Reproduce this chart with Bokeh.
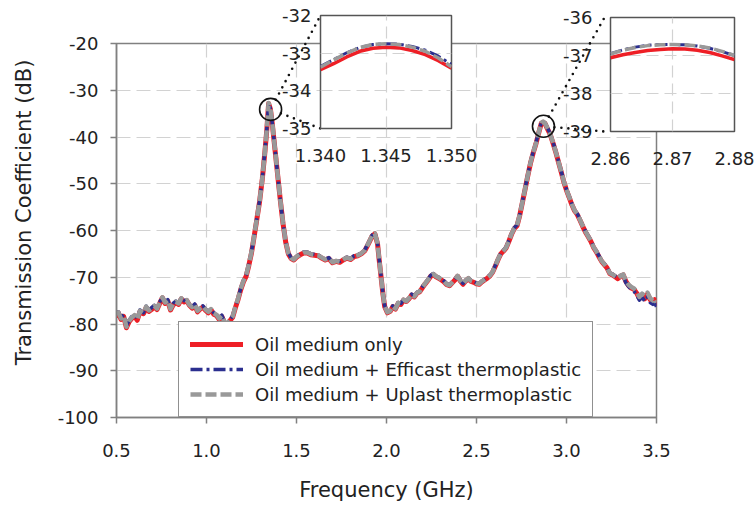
import math
from bokeh.plotting import figure
from bokeh.models import Range1d, FixedTicker, NumeralTickFormatter, Legend, LegendItem
from bokeh.core.properties import value
from bokeh.embed import file_html
from bokeh.resources import INLINE

# ---------------- data ----------------
freq = [0.50,0.51,0.525,0.54,0.555,0.57,0.585,0.60,0.615,0.63,
        0.65,0.665,0.68,0.695,0.71,0.725,0.74,0.755,0.77,0.785,
        0.80,0.815,0.83,0.845,0.86,0.875,0.89,0.905,0.92,0.935,
        0.95,0.965,0.98,0.995,1.01,1.025,1.04,1.055,1.07,1.085,
        1.10,1.115,1.13,1.145,1.16,1.175,1.19,1.205,1.22,1.235,
        1.25,1.265,1.28,1.295,1.31,1.325,1.335,1.345,1.355,1.365,
        1.38,1.395,1.41,1.425,1.44,1.455,1.47,1.485,1.50,1.52,
        1.54,1.56,1.58,1.60,1.62,1.64,1.66,1.68,1.70,1.72,
        1.74,1.76,1.78,1.80,1.82,1.84,1.86,1.88,1.90,1.92,
        1.935,1.95,1.96,1.97,1.98,1.99,2.005,2.02,2.035,2.05,
        2.065,2.08,2.095,2.11,2.125,2.14,2.155,2.17,2.185,2.20,
        2.215,2.23,2.245,2.26,2.275,2.29,2.305,2.32,2.335,2.35,
        2.365,2.38,2.395,2.41,2.425,2.44,2.455,2.47,2.485,2.50,
        2.515,2.53,2.545,2.56,2.575,2.59,2.605,2.62,2.635,2.65,
        2.665,2.68,2.695,2.71,2.725,2.74,2.755,2.77,2.785,2.80,
        2.815,2.83,2.845,2.86,2.87,2.88,2.895,2.91,2.925,2.94,
        2.955,2.97,2.985,3.00,3.015,3.03,3.045,3.06,3.075,3.09,
        3.105,3.12,3.135,3.15,3.165,3.18,3.195,3.21,3.225,3.24,
        3.255,3.27,3.285,3.30,3.315,3.33,3.345,3.36,3.375,3.39,
        3.405,3.42,3.435,3.45,3.465,3.48,3.49,3.50]

oil_only = [-78.2,-77.6,-79.0,-78.4,-80.8,-79.5,-78.8,-78.3,-79.2,-77.4,
            -77.8,-76.5,-77.3,-76.9,-76.3,-76.9,-75.6,-74.4,-75.6,-75.1,
            -77.0,-75.9,-75.4,-75.8,-74.6,-75.3,-75.0,-76.0,-76.6,-76.0,
            -77.4,-76.8,-76.4,-77.1,-77.6,-77.0,-77.9,-78.2,-79.0,-78.4,
            -79.8,-80.2,-79.3,-78.6,-76.6,-74.8,-72.7,-71.0,-69.8,-67.5,
            -64.8,-61.2,-57.5,-53.8,-49.0,-43.0,-38.5,-32.85,-34.0,-37.0,
            -42.5,-48.0,-53.5,-58.5,-62.5,-65.0,-66.0,-66.3,-65.7,-65.2,
            -64.8,-64.8,-65.2,-65.3,-65.4,-65.9,-66.3,-66.0,-66.9,-66.6,
            -66.8,-66.3,-65.9,-66.2,-65.6,-65.4,-65.0,-64.3,-62.8,-61.2,
            -60.7,-62.8,-66.5,-70.0,-73.5,-76.3,-77.6,-77.3,-76.3,-76.8,
            -75.6,-75.8,-74.9,-75.2,-74.6,-73.8,-74.2,-73.4,-73.1,-72.2,
            -71.4,-70.7,-69.8,-69.4,-69.9,-70.2,-70.6,-71.0,-71.6,-71.8,
            -71.2,-70.6,-69.8,-70.8,-71.5,-70.8,-70.3,-70.9,-71.1,-71.4,
            -71.5,-71.0,-70.6,-70.2,-69.7,-68.9,-67.6,-66.2,-65.0,-64.4,
            -63.7,-62.3,-60.8,-59.6,-59.0,-56.8,-54.0,-51.2,-48.3,-45.6,
            -43.4,-41.5,-39.2,-37.1,-36.85,-37.1,-38.3,-39.5,-41.3,-43.2,
            -45.3,-47.4,-49.6,-51.4,-52.9,-54.5,-55.8,-56.6,-57.8,-59.1,
            -60.3,-61.3,-62.3,-63.6,-64.5,-65.6,-66.6,-67.3,-68.0,-69.2,
            -69.5,-69.9,-70.3,-69.8,-69.5,-70.9,-71.8,-72.3,-72.6,-73.4,
            -74.5,-73.8,-74.6,-73.6,-74.8,-75.2,-74.8,-75.6]

oil_efficast = [-77.6,-77.4,-78.6,-78.0,-80.4,-79.2,-78.4,-78.0,-78.8,-77.0,
                -77.6,-76.2,-77.0,-76.5,-76.0,-76.6,-75.3,-74.2,-75.3,-74.8,
                -76.7,-75.6,-75.1,-75.5,-74.4,-75.0,-74.8,-75.8,-76.3,-75.7,
                -77.1,-76.5,-76.1,-76.8,-77.3,-76.7,-77.6,-77.9,-78.7,-78.1,
                -79.5,-79.9,-79.0,-78.3,-76.3,-74.5,-72.4,-70.7,-69.5,-67.2,
                -64.5,-61.0,-57.3,-53.6,-48.8,-42.8,-38.3,-32.75,-33.9,-36.9,
                -42.4,-47.9,-53.4,-58.4,-62.4,-64.8,-65.8,-66.1,-65.5,-65.0,
                -64.6,-64.6,-65.0,-65.1,-65.2,-65.7,-66.1,-65.8,-66.7,-66.4,
                -66.6,-66.1,-65.7,-66.0,-65.4,-65.2,-64.8,-64.1,-62.6,-61.0,
                -60.5,-62.6,-66.3,-69.8,-73.3,-76.1,-77.4,-77.1,-76.1,-76.6,
                -75.4,-75.6,-74.7,-75.0,-74.4,-73.6,-74.0,-73.2,-72.9,-72.0,
                -71.2,-70.5,-69.6,-69.2,-69.7,-70.0,-70.4,-70.8,-71.4,-71.6,
                -71.0,-70.4,-69.6,-70.6,-71.3,-70.6,-70.1,-70.7,-70.9,-71.2,
                -71.3,-70.8,-70.4,-70.0,-69.5,-68.7,-67.4,-66.0,-64.8,-64.2,
                -63.5,-62.1,-60.6,-59.4,-58.8,-56.6,-53.8,-51.0,-48.1,-45.4,
                -43.2,-41.3,-39.0,-36.96,-36.72,-36.96,-38.1,-39.3,-41.1,-43.0,
                -45.1,-47.2,-49.4,-51.2,-52.7,-54.3,-55.6,-56.4,-57.6,-58.9,
                -60.1,-61.1,-62.1,-63.4,-64.3,-65.4,-66.4,-67.1,-67.8,-69.0,
                -69.3,-69.7,-70.1,-69.6,-69.7,-71.2,-72.0,-72.6,-73.0,-73.8,
                -74.9,-74.3,-75.1,-74.2,-75.4,-75.8,-75.5,-76.3]

oil_uplast = [-77.8,-77.5,-78.8,-78.2,-80.6,-79.3,-78.6,-78.1,-79.0,-77.2,
              -77.7,-76.3,-77.1,-76.7,-76.1,-76.7,-75.4,-74.3,-75.4,-74.9,
              -76.8,-75.7,-75.2,-75.6,-74.5,-75.1,-74.9,-75.9,-76.4,-75.8,
              -77.2,-76.6,-76.2,-76.9,-77.4,-76.8,-77.7,-78.0,-78.8,-78.2,
              -79.6,-80.0,-79.1,-78.4,-76.4,-74.6,-72.5,-70.8,-69.6,-67.3,
              -64.6,-61.1,-57.4,-53.7,-48.9,-42.9,-38.4,-32.75,-33.9,-36.9,
              -42.4,-47.9,-53.4,-58.4,-62.4,-64.9,-65.9,-66.2,-65.6,-65.1,
              -64.7,-64.7,-65.1,-65.2,-65.3,-65.8,-66.2,-65.9,-66.8,-66.5,
              -66.7,-66.2,-65.8,-66.1,-65.5,-65.3,-64.9,-64.2,-62.7,-61.1,
              -60.6,-62.7,-66.4,-69.9,-73.4,-76.2,-77.5,-77.2,-76.2,-76.7,
              -75.5,-75.7,-74.8,-75.1,-74.5,-73.7,-74.1,-73.3,-73.0,-72.1,
              -71.3,-70.6,-69.7,-69.3,-69.8,-70.1,-70.5,-70.9,-71.5,-71.7,
              -71.1,-70.5,-69.7,-70.7,-71.4,-70.7,-70.2,-70.8,-71.0,-71.3,
              -71.4,-70.9,-70.5,-70.1,-69.6,-68.8,-67.5,-66.1,-64.9,-64.3,
              -63.6,-62.2,-60.7,-59.5,-58.9,-56.7,-53.9,-51.1,-48.2,-45.5,
              -43.3,-41.4,-39.1,-36.96,-36.71,-37.0,-38.2,-39.4,-41.2,-43.1,
              -45.2,-47.3,-49.5,-51.3,-52.8,-54.4,-55.7,-56.5,-57.7,-59.0,
              -60.2,-61.2,-62.2,-63.5,-64.4,-65.5,-66.5,-67.2,-67.9,-69.1,
              -69.4,-69.8,-70.2,-69.7,-69.4,-70.8,-71.6,-72.1,-72.4,-73.1,
              -74.2,-73.5,-74.0,-73.3,-74.5,-75.0,-74.6,-75.4]

# zoomed views
zoom1_freq = [1.340,1.341,1.342,1.343,1.344,1.345,1.346,1.347,1.348,1.349,1.350]
zoom1_oil = [-33.44,-33.28,-33.10,-32.95,-32.87,-32.84,-32.86,-32.93,-33.04,-33.20,-33.40]
zoom1_efficast = [-33.35,-33.17,-32.99,-32.85,-32.77,-32.75,-32.76,-32.82,-32.92,-33.08,-33.30]
zoom1_uplast = [-33.37,-33.18,-33.00,-32.85,-32.77,-32.75,-32.77,-32.84,-32.95,-33.13,-33.36]

zoom2_freq = [2.860,2.862,2.864,2.866,2.868,2.870,2.872,2.874,2.876,2.878,2.880]
zoom2_oil = [-37.06,-36.98,-36.92,-36.87,-36.84,-36.82,-36.83,-36.86,-36.92,-37.01,-37.11]
zoom2_efficast = [-36.95,-36.85,-36.78,-36.73,-36.71,-36.71,-36.72,-36.75,-36.81,-36.90,-37.00]
zoom2_uplast = [-36.96,-36.86,-36.79,-36.74,-36.72,-36.71,-36.72,-36.75,-36.80,-36.89,-37.00]

x_ticks = [0.5, 1.0, 1.5, 2.0, 2.5, 3.0, 3.5]
y_ticks = [-100, -90, -80, -70, -60, -50, -40, -30, -20]
zoom1_xticks = [1.340, 1.345, 1.350]
zoom1_yticks = [-35, -34, -33, -32]
zoom2_xticks = [2.86, 2.87, 2.88]
zoom2_yticks = [-39, -38, -37, -36]

# highlighted peaks (centre of the marking circles)
mark_x = [1.356, 2.872]
mark_y = [-34.1, -37.7]

labels = ["Oil medium only",
          "Oil medium + Efficast thermoplastic",
          "Oil medium + Uplast thermoplastic"]
x_title = "Frequency (GHz)"
y_title = "Transmission Coefficient (dB)"

# ---------------- style ----------------
FONT = "DejaVu Sans"
RED = "#ee1f26"
BLUE = "#2b2f8f"
GRAY = "#999999"
AXIS = "#808080"
GRID = "#d2d2d2"
TXT = "#222222"

# main frame layout (pixels)
FL, FT, FW, FH = 116, 43, 540, 374
X0, X1, Y0, Y1 = 0.5, 3.5, -100, -20


def hyphen_labels(ticks, fmt="{:g}"):
    return {t: fmt.format(t) for t in ticks}


def px_to_main(px, py):
    return (X0 + (px - FL) / FW * (X1 - X0), Y1 - (py - FT) / FH * (Y1 - Y0))


def main_to_px(x, y):
    return (FL + (x - X0) / (X1 - X0) * FW, FT + (Y1 - y) / (Y1 - Y0) * FH)


p = figure(frame_width=FW, frame_height=FH,
           min_border_left=FL, min_border_right=755 - FL - FW,
           min_border_top=FT, min_border_bottom=507 - FT - FH,
           x_range=Range1d(X0, X1), y_range=Range1d(Y0, Y1),
           output_backend="svg", toolbar_location=None,
           background_fill_color="white", border_fill_color="white",
           styles={"position": "absolute", "left": "0px", "top": "0px"})
p.outline_line_color = AXIS
p.outline_line_width = 1.5

for ax in (p.xaxis[0], p.yaxis[0]):
    ax.axis_line_color = AXIS
    ax.axis_line_width = 1.5
    ax.major_tick_line_color = AXIS
    ax.major_tick_line_width = 1.5
    ax.major_tick_out = 6
    ax.major_tick_in = 0
    ax.minor_tick_line_color = None
    ax.major_label_text_font = FONT
    ax.major_label_text_font_size = "18px"
    ax.major_label_text_color = TXT
    ax.axis_label_text_font = FONT
    ax.axis_label_text_font_size = "21px"
    ax.axis_label_text_font_style = "normal"
    ax.axis_label_text_color = TXT

p.xaxis.ticker = FixedTicker(ticks=x_ticks)
p.yaxis.ticker = FixedTicker(ticks=y_ticks)
p.xaxis.formatter = NumeralTickFormatter(format="0.0")
p.yaxis.major_label_overrides = hyphen_labels(y_ticks)
p.xaxis.axis_label = x_title
p.xaxis.major_label_standoff = 20
p.yaxis.major_label_standoff = 12
p.xaxis.axis_label_standoff = 18

for g in (p.xgrid[0], p.ygrid[0]):
    g.grid_line_color = GRID
    g.grid_line_dash = "14 6"
    g.grid_line_width = 1.2

r_red = p.line(freq, oil_only, line_color=RED, line_width=5, line_join="round", line_cap="round")
r_blue = p.line(freq, oil_efficast, line_color=BLUE, line_width=3.5, line_dash="12 4 3 4", line_join="round")
r_gray = p.line(freq, oil_uplast, line_color=GRAY, line_width=4.5, line_dash="11 4", line_join="round")

# y-axis title, left of the tick labels (slightly above the frame centre, as in the original)
tx, ty = px_to_main(23, 212)
p.text(x=[tx], y=[ty], text=[y_title], angle=math.pi / 2,
       text_align="center", text_baseline="middle",
       text_font=value(FONT), text_font_size="21px", text_color=TXT, level="overlay")

legend = Legend(items=[LegendItem(label=labels[0], renderers=[r_red]),
                       LegendItem(label=labels[1], renderers=[r_blue]),
                       LegendItem(label=labels[2], renderers=[r_gray])],
                location=(62, 0))
legend.label_text_font = FONT
legend.label_text_font_size = "18px"
legend.label_text_color = TXT
legend.border_line_color = "#222222"
legend.border_line_width = 1.2
legend.background_fill_color = "white"
legend.background_fill_alpha = 1
legend.glyph_width = 53
legend.glyph_height = 22
legend.label_height = 22
legend.label_standoff = 12
legend.spacing = 3
legend.padding = 11
legend.margin = 0
p.add_layout(legend)

# marking circles
p.scatter(mark_x, mark_y, marker="circle", size=22, fill_color=None,
          line_color="#111111", line_width=1.6, level="overlay")

# inset layout (pixels on the page)
I1 = dict(left=276, top=0, bl=44, bt=15, fw=131, fh=113, br=30, bb=40, ystand=3)
I2 = dict(left=560, top=0, bl=44, bt=17, fw=130, fh=114, br=21, bb=40, ystand=12)

# dotted connectors from each circle to the inset's left corners
xs0, ys0, xs1, ys1 = [], [], [], []
for (cx, cy), ins in zip(zip(mark_x, mark_y), (I1, I2)):
    cpx, cpy = main_to_px(cx, cy)
    corner_x = ins["left"] + ins["bl"]
    for corner_y in (ins["top"] + ins["bt"], ins["top"] + ins["bt"] + ins["fh"]):
        dx, dy = corner_x - cpx, corner_y - cpy
        d = (dx * dx + dy * dy) ** 0.5
        sx, sy = cpx + dx / d * 11, cpy + dy / d * 11
        a = px_to_main(sx, sy)
        b = px_to_main(corner_x, corner_y)
        xs0.append(a[0]); ys0.append(a[1]); xs1.append(b[0]); ys1.append(b[1])

p.segment(xs0, ys0, xs1, ys1, line_color="#111111", line_width=2.6,
          line_dash="0 7", line_cap="round", level="overlay")


def make_inset(ins, xr, yr, xt, yt, fmt, xs, ys_list):
    w = ins["bl"] + ins["fw"] + ins["br"]
    h = ins["bt"] + ins["fh"] + ins["bb"]
    f = figure(width=w, height=h,
               min_border_left=ins["bl"], min_border_right=ins["br"],
               min_border_top=ins["bt"], min_border_bottom=ins["bb"],
               x_range=Range1d(*xr), y_range=Range1d(*yr),
               output_backend="svg", toolbar_location=None,
               background_fill_color="white", border_fill_color=None,
               styles={"position": "absolute", "left": f"{ins['left']}px",
                       "top": f"{ins['top']}px", "width": f"{w}px", "height": f"{h}px"})
    f.outline_line_color = "#555555"
    f.outline_line_width = 1.5
    for ax in (f.xaxis[0], f.yaxis[0]):
        ax.axis_line_color = None
        ax.major_tick_line_color = None
        ax.minor_tick_line_color = None
        ax.major_label_text_font = FONT
        ax.major_label_text_font_size = "18px"
        ax.major_label_text_color = TXT
    f.xaxis.ticker = FixedTicker(ticks=xt)
    f.yaxis.ticker = FixedTicker(ticks=yt)
    f.xaxis.formatter = NumeralTickFormatter(format=fmt)
    f.yaxis.major_label_overrides = hyphen_labels(yt)
    f.xaxis.major_label_standoff = 14
    f.yaxis.major_label_standoff = ins["ystand"]
    for g in (f.xgrid[0], f.ygrid[0]):
        g.grid_line_color = GRID
        g.grid_line_dash = "12 6"
        g.grid_line_width = 1.2
    f.line(xs, ys_list[0], line_color=RED, line_width=3.5)
    f.line(xs, ys_list[1], line_color=BLUE, line_width=3, line_dash="12 4 3 4")
    f.line(xs, ys_list[2], line_color=GRAY, line_width=3.5, line_dash="11 4")
    return f


inset1 = make_inset(I1, (1.340, 1.350), (-35, -32), zoom1_xticks, zoom1_yticks, "0.000",
                    zoom1_freq, [zoom1_oil, zoom1_efficast, zoom1_uplast])
inset2 = make_inset(I2, (2.86, 2.88), (-39, -36), zoom2_xticks, zoom2_yticks, "0.00",
                    zoom2_freq, [zoom2_oil, zoom2_efficast, zoom2_uplast])

open("out.html", "w").write(file_html([p, inset1, inset2], INLINE))
